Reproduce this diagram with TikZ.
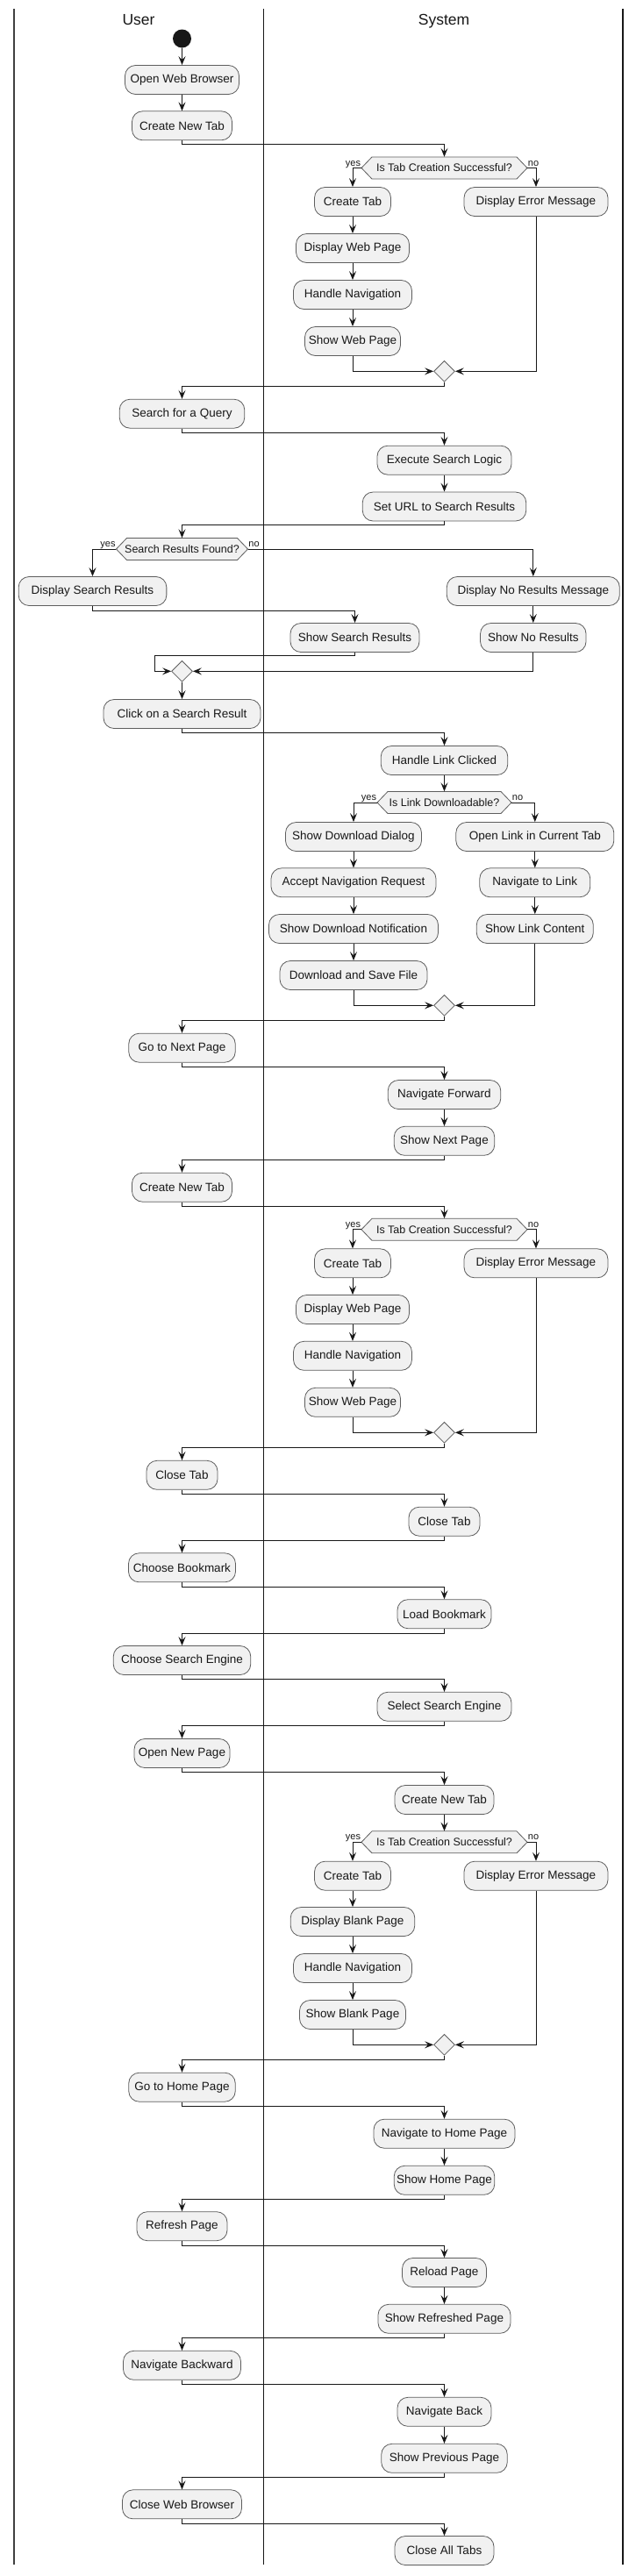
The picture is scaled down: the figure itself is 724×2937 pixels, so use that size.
\documentclass[tikz,border=0pt]{standalone}
\usepackage{fontspec}
\setmainfont{Liberation Sans}
\usetikzlibrary{arrows.meta,shapes.geometric}
\definecolor{actfill}{HTML}{F1F1F1}
\definecolor{ink}{HTML}{181818}
\definecolor{edgegray}{HTML}{5E5E5E}
\newcommand\hexd[5]{%
  \filldraw[hexbox] (#2-#4,#3) -- (#2-#4+12,#3-12.5) -- (#2+#4-12,#3-12.5) -- (#2+#4,#3) -- (#2+#4-12,#3+12.5) -- (#2-#4+12,#3+12.5) -- cycle;
  \node[hextext, minimum width=2*#4pt] (#1) at (#2,#3) {#5};
}
\begin{document}
\begin{tikzpicture}[x=1pt,y=-1pt,
  act/.style={draw=edgegray, line width=0.8pt, fill=actfill, rounded corners=12pt, minimum height=33pt, inner sep=0pt, font=\fontsize{13.5}{16}\selectfont, text=ink},
  hexbox/.style={draw=edgegray, line width=0.8pt, fill=actfill},
  hextext/.style={inner sep=0pt, minimum height=25pt, font=\fontsize{12.5}{14}\selectfont, text=ink},
  merge/.style={diamond, draw=edgegray, line width=0.8pt, fill=actfill, minimum width=24pt, minimum height=24pt, inner sep=0pt},
  arr/.style={draw=ink, line width=1pt, -{Stealth[length=10pt,width=8pt,inset=4pt]}},
  lbl/.style={font=\fontsize{11}{13}\selectfont, inner sep=0.5pt, text=ink},
  lanetitle/.style={font=\fontsize{17.5}{20}\selectfont, text=ink, anchor=base},
  lane/.style={draw=ink, line width=1pt}
]
\fill[white] (0,0) rectangle (724,2937);
\useasboundingbox (0,0) rectangle (724,2937);

% lanes
\draw[line width=2pt, draw=black!75] (16,10) -- (16,2924);
\draw[lane] (300,10) -- (300,2924);
\draw[line width=1.3pt, draw=ink] (710,10) -- (710,2924);
\node[lanetitle] (tu) at (158,28.3) {User};
\node[lanetitle] (ts) at (506,28.3) {System};

% nodes
\node[circle, fill=ink, minimum size=21pt, inner sep=0pt] (start) at (207.5,44) {};
\node[act, minimum width=130pt] (u1) at (207.5,91) {Open Web Browser};
\node[act, minimum width=114pt] (u2) at (207.5,143.3) {Create New Tab};
\hexd{d1}{506.5}{191.5}{94.5}{Is Tab Creation Successful?}
\node[act, minimum width=87pt] (s1) at (402,230) {Create Tab};
\node[act, minimum width=164pt] (s2) at (611,230) {Display Error Message};
\node[act, minimum width=129pt] (s3) at (402,283) {Display Web Page};
\node[act, minimum width=135pt] (s4) at (402,336) {Handle Navigation};
\node[act, minimum width=109pt] (s5) at (402,389) {Show Web Page};
\node[merge] (m1) at (506.5,423.3) {};
\node[act, minimum width=142.5pt] (u3) at (207.5,471.7) {Search for a Query};
\node[act, minimum width=153pt] (s6) at (506.5,524.7) {Execute Search Logic};
\node[act, minimum width=186.5pt] (s7) at (506.5,577.5) {Set URL to Search Results};
\hexd{d2}{207.5}{626}{75}{Search Results Found?}
\node[act, minimum width=168.7pt] (u4) at (105.5,674) {Display Search Results};
\node[act, minimum width=197pt] (s8) at (607.8,674) {Display No Results Message};
\node[act, minimum width=147pt] (s9) at (404.5,727) {Show Search Results};
\node[act, minimum width=120.5pt] (s10) at (607.8,727) {Show No Results};
\node[merge] (m2) at (207.5,765.3) {};
\node[act, minimum width=179pt] (u5) at (207.5,814) {Click on a Search Result};
\node[act, minimum width=144.5pt] (s11) at (506.5,867) {Handle Link Clicked};
\hexd{d3}{506.5}{915}{76.5}{Is Link Downloadable?}
\node[act, minimum width=155pt] (s12) at (403,954) {Show Download Dialog};
\node[act, minimum width=180pt] (s13) at (609.8,954) {Open Link in Current Tab};
\node[act, minimum width=188pt] (s14) at (403,1006.3) {Accept Navigation Request};
\node[act, minimum width=126pt] (s15) at (609.8,1006.3) {Navigate to Link};
\node[act, minimum width=193pt] (s16) at (403,1059) {Show Download Notification};
\node[act, minimum width=133pt] (s17) at (609.8,1059) {Show Link Content};
\node[act, minimum width=168pt] (s18) at (403,1112) {Download and Save File};
\node[merge] (m3) at (506.5,1146.3) {};
\node[act, minimum width=121.5pt] (u6) at (207.5,1194.7) {Go to Next Page};
\node[act, minimum width=128.5pt] (s19) at (506.5,1248) {Navigate Forward};
\node[act, minimum width=114.5pt] (s20) at (506.5,1300.8) {Show Next Page};
\node[act, minimum width=114pt] (u7) at (207.5,1353.7) {Create New Tab};
\hexd{d4}{506.5}{1401.8}{94.5}{Is Tab Creation Successful?}
\node[act, minimum width=87pt] (s21) at (402,1440.3) {Create Tab};
\node[act, minimum width=164pt] (s22) at (611,1440.3) {Display Error Message};
\node[act, minimum width=129pt] (s23) at (402,1493) {Display Web Page};
\node[act, minimum width=135pt] (s24) at (402,1545.8) {Handle Navigation};
\node[act, minimum width=109pt] (s25) at (402,1598.8) {Show Web Page};
\node[merge] (m4) at (506.5,1633.3) {};
\node[act, minimum width=81pt] (u8) at (207.5,1681.8) {Close Tab};
\node[act, minimum width=81pt] (s26) at (506.5,1734.7) {Close Tab};
\node[act, minimum width=122pt] (u9) at (207.5,1787.3) {Choose Bookmark};
\node[act, minimum width=107pt] (s27) at (506.5,1840.2) {Load Bookmark};
\node[act, minimum width=156.5pt] (u10) at (207.5,1893) {Choose Search Engine};
\node[act, minimum width=153pt] (s28) at (506.5,1945.8) {Select Search Engine};
\node[act, minimum width=109pt] (u11) at (207.5,1999) {Open New Page};
\node[act, minimum width=113pt] (s29) at (506.5,2052) {Create New Tab};
\hexd{d5}{506.5}{2100.3}{94.5}{Is Tab Creation Successful?}
\node[act, minimum width=87pt] (s30) at (402,2138.7) {Create Tab};
\node[act, minimum width=164pt] (s31) at (611,2138.7) {Display Error Message};
\node[act, minimum width=141.5pt] (s32) at (402,2191) {Display Blank Page};
\node[act, minimum width=135pt] (s33) at (402,2244) {Handle Navigation};
\node[act, minimum width=121pt] (s34) at (402,2297) {Show Blank Page};
\node[merge] (m5) at (506.5,2331.3) {};
\node[act, minimum width=121.5pt] (u12) at (207.5,2379.7) {Go to Home Page};
\node[act, minimum width=161pt] (s35) at (506.5,2432.7) {Navigate to Home Page};
\node[act, minimum width=114.5pt] (s36) at (506.5,2485.8) {Show Home Page};
\node[act, minimum width=103pt] (u13) at (207.5,2538.2) {Refresh Page};
\node[act, minimum width=96pt] (s37) at (506.5,2591) {Reload Page};
\node[act, minimum width=151pt] (s38) at (506.5,2643.8) {Show Refreshed Page};
\node[act, minimum width=134pt] (u14) at (207.5,2696.8) {Navigate Backward};
\node[act, minimum width=107pt] (s39) at (506.5,2749.8) {Navigate Back};
\node[act, minimum width=143.5pt] (s40) at (506.5,2802.8) {Show Previous Page};
\node[act, minimum width=136pt] (u15) at (207.5,2855.3) {Close Web Browser};
\node[act, minimum width=113pt] (s41) at (506.5,2908) {Close All Tabs};

% branch labels
\node[lbl, anchor=base east] (y1) at ([yshift=2.5pt]d1.west) {yes};
\node[lbl, anchor=base west] (n1) at ([yshift=2.5pt]d1.east) {no};
\node[lbl, anchor=base east] (y2) at ([yshift=2.5pt]d2.west) {yes};
\node[lbl, anchor=base west] (n2) at ([yshift=2.5pt]d2.east) {no};
\node[lbl, anchor=base east] (y3) at ([yshift=2.5pt]d3.west) {yes};
\node[lbl, anchor=base west] (n3) at ([yshift=2.5pt]d3.east) {no};
\node[lbl, anchor=base east] (y4) at ([yshift=2.5pt]d4.west) {yes};
\node[lbl, anchor=base west] (n4) at ([yshift=2.5pt]d4.east) {no};
\node[lbl, anchor=base east] (y5) at ([yshift=2.5pt]d5.west) {yes};
\node[lbl, anchor=base west] (n5) at ([yshift=2.5pt]d5.east) {no};

% connectors
\draw[arr] (start.south) -- (u1.north);
\draw[arr] (u1.south) -- (u2.north);
\draw[arr] (u2.south) -- ++(0,4.5) -| (d1.north);
\draw[arr] (d1.west) -| (s1.north);
\draw[arr] (d1.east) -| (s2.north);
\draw[arr] (s1.south) -- (s3.north);
\draw[arr] (s3.south) -- (s4.north);
\draw[arr] (s4.south) -- (s5.north);
\draw[arr] (s5.south) |- (m1.west);
\draw[arr] (s2.south) |- (m1.east);
\draw[arr] (m1.south) -- ++(0,4.7) -| (u3.north);
\draw[arr] (u3.south) -- ++(0,5) -| (s6.north);
\draw[arr] (s6.south) -- (s7.north);
\draw[arr] (s7.south) -- ++(0,4.3) -| (d2.north);
\draw[arr] (d2.west) -| (u4.north);
\draw[arr] (d2.east) -| (s8.north);
\draw[arr] (u4.south) -- ++(0,5.4) -| (s9.north);
\draw[arr] (s8.south) -- (s10.north);
\draw[arr] (s9.south) -- ++(0,4) -| ([xshift=-18.7pt]m2.west) -- (m2.west);
\draw[arr] (s10.south) |- (m2.east);
\draw[arr] (m2.south) -- (u5.north);
\draw[arr] (u5.south) -- ++(0,4.3) -| (s11.north);
\draw[arr] (s11.south) -- (d3.north);
\draw[arr] (d3.west) -| (s12.north);
\draw[arr] (d3.east) -| (s13.north);
\draw[arr] (s12.south) -- (s14.north);
\draw[arr] (s14.south) -- (s16.north);
\draw[arr] (s16.south) -- (s18.north);
\draw[arr] (s13.south) -- (s15.north);
\draw[arr] (s15.south) -- (s17.north);
\draw[arr] (s18.south) |- (m3.west);
\draw[arr] (s17.south) |- (m3.east);
\draw[arr] (m3.south) -- ++(0,5) -| (u6.north);
\draw[arr] (u6.south) -- ++(0,5) -| (s19.north);
\draw[arr] (s19.south) -- (s20.north);
\draw[arr] (s20.south) -- ++(0,5) -| (u7.north);
\draw[arr] (u7.south) -- ++(0,4.7) -| (d4.north);
\draw[arr] (d4.west) -| (s21.north);
\draw[arr] (d4.east) -| (s22.north);
\draw[arr] (s21.south) -- (s23.north);
\draw[arr] (s23.south) -- (s24.north);
\draw[arr] (s24.south) -- (s25.north);
\draw[arr] (s25.south) |- (m4.west);
\draw[arr] (s22.south) |- (m4.east);
\draw[arr] (m4.south) -- ++(0,5) -| (u8.north);
\draw[arr] (u8.south) -- ++(0,4.7) -| (s26.north);
\draw[arr] (s26.south) -- ++(0,5) -| (u9.north);
\draw[arr] (u9.south) -- ++(0,5) -| (s27.north);
\draw[arr] (s27.south) -- ++(0,5) -| (u10.north);
\draw[arr] (u10.south) -- ++(0,5) -| (s28.north);
\draw[arr] (s28.south) -- ++(0,5) -| (u11.north);
\draw[arr] (u11.south) -- ++(0,5) -| (s29.north);
\draw[arr] (s29.south) -- (d5.north);
\draw[arr] (d5.west) -| (s30.north);
\draw[arr] (d5.east) -| (s31.north);
\draw[arr] (s30.south) -- (s32.north);
\draw[arr] (s32.south) -- (s33.north);
\draw[arr] (s33.south) -- (s34.north);
\draw[arr] (s34.south) |- (m5.west);
\draw[arr] (s31.south) |- (m5.east);
\draw[arr] (m5.south) -- ++(0,5) -| (u12.north);
\draw[arr] (u12.south) -- ++(0,5) -| (s35.north);
\draw[arr] (s35.south) -- (s36.north);
\draw[arr] (s36.south) -- ++(0,5) -| (u13.north);
\draw[arr] (u13.south) -- ++(0,5) -| (s37.north);
\draw[arr] (s37.south) -- (s38.north);
\draw[arr] (s38.south) -- ++(0,5) -| (u14.north);
\draw[arr] (u14.south) -- ++(0,5) -| (s39.north);
\draw[arr] (s39.south) -- (s40.north);
\draw[arr] (s40.south) -- ++(0,5) -| (u15.north);
\draw[arr] (u15.south) -- ++(0,5) -| (s41.north);
\end{tikzpicture}
\end{document}
